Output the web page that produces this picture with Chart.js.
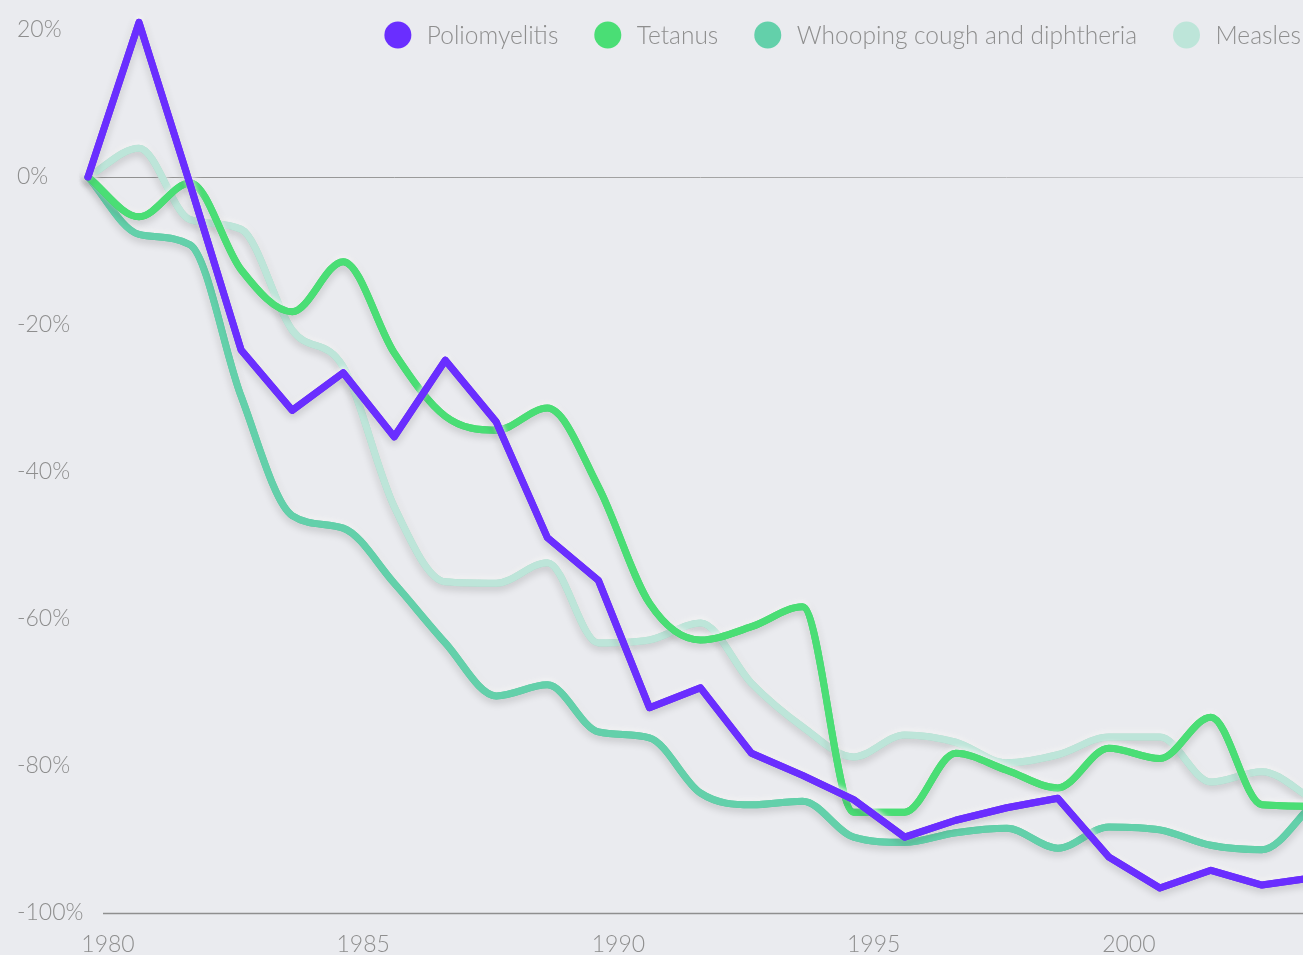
<!DOCTYPE html>
<html>
<head>
<meta charset="utf-8">
<script src="https://cdn.jsdelivr.net/npm/chart.js@4/dist/chart.umd.min.js"></script>
<style>
  html, body { margin: 0; padding: 0; background: #eaebef; overflow: hidden; }
  #wrap { width: 1316px; height: 955px; }
</style>
</head>
<body>
<div id="wrap"><canvas id="vaccineChart"></canvas></div>
<script>
// change in reported cases since 1980, %
const years = [1980, 1981, 1982, 1983, 1984, 1985, 1986, 1987, 1988, 1989, 1990, 1991, 1992,
               1993, 1994, 1995, 1996, 1997, 1998, 1999, 2000, 2001, 2002, 2003, 2004];
const polio = [0, 21, -1, -23.5, -31.7, -26.6, -35.3, -24.9, -33.3, -49, -54.8, -72.1, -69.4,
               -78.3, -81.3, -84.6, -89.7, -87.4, -85.7, -84.4, -92.4, -96.6, -94.2, -96.2, -95.2];
const tetanus = [0, -5.4, -0.8, -12.6, -18.3, -11.5, -23.9, -32.5, -34.4, -31.4, -42.1, -57.9, -62.9,
                 -61.1, -58.4, -86.3, -86.3, -78.3, -80.6, -83, -77.6, -79, -73.4, -85.3, -85.5];
const whooping = [0, -7.8, -9.2, -29.8, -46, -47.7, -55.2, -63.3, -70.5, -69, -75.4, -76.2, -83.7,
                  -85.3, -84.8, -89.7, -90.4, -89.1, -88.5, -91.2, -88.3, -88.7, -90.8, -91.4, -85.2];
const measles = [0, 3.9, -5.8, -7.1, -20.8, -25.8, -44.8, -55, -55.2, -52.4, -63.3, -62.9, -60.6,
                 -68.8, -74.7, -78.8, -75.8, -76.8, -79.6, -78.5, -76.1, -76.1, -82.2, -80.8, -84.6];

const xTicks = [1980, 1985, 1990, 1995, 2000];
const yTicks = [20, 0, -20, -40, -60, -80, -100];

const textGrey = '#8e8e8e';
const fontFamily = 'Lato, "Open Sans", sans-serif';
Chart.defaults.font.family = fontFamily;
Chart.defaults.font.weight = 300;
Chart.defaults.font.size = 23;

const toPoints = vals => vals.map((v, i) => ({ x: years[i], y: v }));

function series(label, vals, color, smooth) {
    return {
        label: label,
        data: toPoints(vals),
        borderColor: color,
        backgroundColor: color,
        borderWidth: 7,
        borderCapStyle: 'round',
        borderJoinStyle: 'round',
        pointRadius: 0,
        pointHoverRadius: 0,
        tension: 0,
        cubicInterpolationMode: smooth ? 'monotone' : 'default',
        clip: false
    };
}

// zero line fades out towards the right
function zeroLineColor(c) {
    if (!c.tick || c.tick.value !== 0) return 'transparent';
    const area = c.chart.chartArea;
    if (!area) return '#9c9c9c';
    const g = c.chart.ctx.createLinearGradient(area.left, 0, area.right, 0);
    g.addColorStop(0, '#8f8f8f');
    g.addColorStop(0.6, '#a8a8a8');
    g.addColorStop(1, '#d4d5d9');
    return g;
}

// soft light/dark halo around each line
const lineShadow = {
    id: 'lineShadow',
    beforeDatasetDraw(chart, args) {
        const ctx = chart.ctx;
        ctx.save();
        ctx.shadowColor = 'rgba(255, 255, 255, 0.95)';
        ctx.shadowBlur = 5;
        ctx.shadowOffsetX = 0;
        ctx.shadowOffsetY = -2;
        args.meta.controller.draw();
        ctx.shadowColor = 'rgba(0, 0, 0, 0.2)';
        ctx.shadowBlur = 8;
        ctx.shadowOffsetY = 3;
    },
    afterDatasetDraw(chart) {
        chart.ctx.restore();
    }
};

// baseline at -100%, starting a little right of the plot edge
const baseLine = {
    id: 'baseLine',
    beforeDatasetsDraw(chart) {
        const { ctx, chartArea, scales } = chart;
        const y = Math.round(scales.y.getPixelForValue(-100)) + 0.5;
        ctx.save();
        ctx.strokeStyle = '#8f8f8f';
        ctx.lineWidth = 1.5;
        ctx.beginPath();
        ctx.moveTo(chartArea.left + 15, y);
        ctx.lineTo(chartArea.right, y);
        ctx.stroke();
        ctx.restore();
    }
};

// one-row legend with round swatches, right aligned over the plot
const dotLegend = {
    id: 'dotLegend',
    afterDraw(chart) {
        const { ctx, chartArea } = chart;
        const r = 13.5, textGap = 29, itemGap = 36, baseY = 44;
        ctx.save();
        ctx.font = '300 24.5px ' + fontFamily;
        const items = chart.data.datasets.map(ds => ({
            label: ds.label,
            color: ds.borderColor,
            w: ctx.measureText(ds.label).width
        }));
        const total = items.reduce((s, it) => s + r + textGap + it.w, 0) + itemGap * (items.length - 1);
        let x = chartArea.right - 12 - total;
        items.forEach(it => {
            ctx.fillStyle = it.color;
            ctx.beginPath();
            ctx.arc(x + r, baseY - 9, r, 0, Math.PI * 2);
            ctx.fill();
            ctx.fillStyle = textGrey;
            ctx.textBaseline = 'alphabetic';
            ctx.textAlign = 'left';
            ctx.fillText(it.label, x + r + textGap, baseY);
            x += r + textGap + it.w + itemGap;
        });
        ctx.restore();
    }
};

const ctx = document.getElementById('vaccineChart').getContext('2d');

const vaccineChart = new Chart(ctx, {
    type: 'line',
    data: {
        datasets: [
            series('Poliomyelitis', polio, '#6a2eff', false),
            series('Tetanus', tetanus, '#4ade75', true),
            series('Whooping cough and diphtheria', whooping, '#63d0aa', true),
            series('Measles', measles, '#bde5d9', true)
        ]
    },
    options: {
        responsive: true,
        maintainAspectRatio: false,
        animation: false,
        events: [],
        layout: {
            padding: { left: 17, right: 3, top: 0, bottom: 0 }
        },
        scales: {
            x: {
                type: 'linear',
                min: 1980,
                max: 2004,
                afterBuildTicks: scale => { scale.ticks = xTicks.map(v => ({ value: v })); },
                afterFit: scale => {
                    scale.height = 42;
                    scale.paddingLeft = 0;
                    scale.paddingRight = 0;
                },
                grid: { display: false },
                border: { display: false },
                ticks: {
                    color: textGrey,
                    padding: 10,
                    labelOffset: 20,
                    maxRotation: 0,
                    callback: v => String(v)
                }
            },
            y: {
                min: -100,
                max: 24.05,
                afterBuildTicks: scale => { scale.ticks = yTicks.map(v => ({ value: v })); },
                afterFit: scale => {
                    scale.width = 71;
                    scale.paddingTop = 0;
                    scale.paddingBottom = 0;
                },
                grid: {
                    drawTicks: false,
                    lineWidth: 1,
                    color: zeroLineColor
                },
                border: { display: false },
                ticks: {
                    color: textGrey,
                    padding: 0,
                    crossAlign: 'far',
                    callback: v => v + '%'
                }
            }
        },
        plugins: {
            tooltip: { enabled: false },
            legend: { display: false }
        }
    },
    plugins: [lineShadow, baseLine, dotLegend]
});
</script>
</body>
</html>
